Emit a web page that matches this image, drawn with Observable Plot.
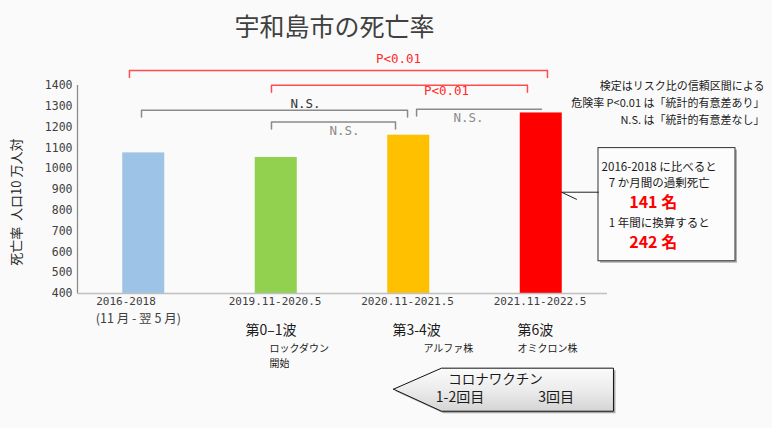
<!DOCTYPE html>
<html><head><meta charset="utf-8">
<script src="https://cdn.jsdelivr.net/npm/d3@7"></script>
<script src="https://cdn.jsdelivr.net/npm/@observablehq/plot@0.6"></script>
<style>
html,body{margin:0;padding:0;background:#fafafa;}
#chart{width:772px;height:428px;}
</style></head><body><div id="chart"></div>
<script>
// ---- data ----
const categories = ["2016-2018", "2019.11-2020.5", "2020.11-2021.5", "2021.11-2022.5"];
const categorySubLabels = ["(11 月 - 翌 5 月)", "", "", ""];
const deathRates = [1076, 1054, 1161, 1268];
const yTicks = [400, 500, 600, 700, 800, 900, 1000, 1100, 1200, 1300, 1400];
const yLabel = "死亡率  人口10 万人対";
const title = "宇和島市の死亡率";

// significance brackets (category-index units / rate units)
const bracketFrom = [-0.108, 0.964, -0.017, 0.964, 2.059];
const bracketTo = [3.047, 2.896, 1.991, 1.900, 3.002];
const bracketLevel = [1472, 1401, 1281, 1224, 1286];
const bracketLabels = ["P<0.01", "P<0.01", "N.S.", "N.S.", "N.S."];
const bracketLabelX = [1.923, 2.285, 1.221, 1.515, 2.451];
const bracketLabelY = [1527, 1373, 1310, 1180, 1243];
const bracketRightDrop = [true, true, true, true, false];

const waveLabels = ["第0–1波", "第3-4波", "第6波"];
const waveX = [0.768, 1.877, 2.821];
const strainLabels = ["ロックダウン\n開始", "アルファ株", "オミクロン株"];
const strainX = [0.949, 2.111, 2.821];

const notes = ["検定はリスク比の信頼区間による", "危険率 P<0.01 は「統計的有意差あり」", "N.S. は「統計的有意差なし」"];
const notesY = [1393, 1313, 1233];

const excess7mo = 141;
const excessYear = 242;
const calloutLines = ["2016-2018 に比べると", "7 か月間の過剰死亡", `${excess7mo} 名`, "1 年間に換算すると", `${excessYear} 名`];
const calloutLineY = [1007, 930, 834, 738, 642];
const calloutEmph = [false, false, true, false, true];

const vaccineTitle = "コロナワクチン";
const vaccineDoses = ["1-2回目", "3回目"];
const vaccineDoseX = [2.387, 3.113];

// ---- styles ----
const barColors = ["#9DC3E6", "#92D050", "#FFC000", "#FF0000"];
const mono = "'DejaVu Sans Mono', monospace";
const cjk = "'Noto Sans CJK JP', sans-serif";
const textColor = "#404040";
const bracketLabelColors = ["#ff2a2a", "#ff2a2a", "#333333", "#8a8a8a", "#8a8a8a"];
const bracketStroke = (i) => bracketLabels[i].startsWith("P") ? "#ff4d4d" : "#8a8a8a";

// ---- derived tables ----
const bars = categories.map((c, i) => ({i, c, sub: categorySubLabels[i], v: deathRates[i], color: barColors[i]}));
const drop = 33;
const bracketPts = [];
bracketFrom.forEach((f, k) => {
  const t = bracketTo[k], y = bracketLevel[k];
  bracketPts.push({k, x: f, y: y - drop}, {k, x: f, y}, {k, x: t, y});
  if (bracketRightDrop[k]) bracketPts.push({k, x: t, y: y - drop});
});
const bracketText = bracketLabels.map((l, k) => ({l, x: bracketLabelX[k], y: bracketLabelY[k], color: bracketLabelColors[k]}));

const box = {x1: 3.432, x2: 4.466, y1: 555, y2: 1099};
const leader = [{x: 3.432, y: 887}, {x: 3.153, y: 887}, {x: 3.266, y: 853}];
const callout = calloutLines.map((t, k) => ({t, y: calloutLineY[k], emph: calloutEmph[k]}));

const arrowPoly = [
  {x: 1.885, y: -60}, {x: 2.247, y: 41}, {x: 3.545, y: 41},
  {x: 3.545, y: -166}, {x: 2.247, y: -166}, {x: 1.885, y: -60}
];

const chart = Plot.plot({
  width: 772, height: 428,
  marginLeft: 77, marginRight: 165, marginTop: 85, marginBottom: 135,
  x: {domain: [-0.5, 3.5], axis: null},
  y: {domain: [400, 1400], axis: null},
  style: {background: "#fafafa", fontFamily: mono, color: textColor},
  marks: [
    // bars
    Plot.rect(bars, {x1: d => d.i - 0.5, x2: d => d.i + 0.5, y1: 400, y2: "v", fill: "color", insetLeft: 45.25, insetRight: 45.25}),
    // axes
    Plot.ruleX([-0.5], {y1: 400, y2: 1400, stroke: "#8c8c8c", strokeWidth: 1.3}),
    Plot.ruleY([400], {x1: -0.5, x2: 3.5, stroke: "#bfbfbf", strokeWidth: 1.5}),
    Plot.axisY({ticks: yTicks, tickSize: 0, tickPadding: 5, tickFormat: d => String(d), fontSize: 11.5, fontFamily: mono, fill: textColor, label: null}),
    Plot.text(bars, {x: "i", text: "c", frameAnchor: "bottom", dy: 11, dx: -47.5, textAnchor: "start", fontSize: 11, fontFamily: mono, fill: textColor}),
    Plot.text(bars, {x: "i", text: "sub", frameAnchor: "bottom", dy: 29, dx: -48, textAnchor: "start", fontSize: 12.5, fontFamily: cjk, fill: textColor}),
    Plot.text([yLabel], {frameAnchor: "left", y: 839, dx: -61, rotate: -90, textAnchor: "middle", fontSize: 13, fontFamily: cjk, fill: "#262626"}),
    // title
    Plot.text([title], {x: 1.44, y: 1675, fontSize: 25, fontFamily: cjk, fill: textColor}),
    // brackets
    Plot.line(bracketPts, {x: "x", y: "y", z: "k", stroke: d => bracketStroke(d.k), strokeWidth: 1.5}),
    Plot.text(bracketText, {x: "x", y: "y", text: "l", fill: "color", fontSize: 12.5, fontFamily: mono}),
    // notes
    Plot.text(notes, {x: 4.685, y: (d, k) => notesY[k], text: d => d, textAnchor: "end", fontSize: 11, fontFamily: cjk, fill: "#1a1a1a"}),
    // callout
    Plot.rect([box], {x1: "x1", x2: "x2", y1: "y1", y2: "y2", fill: "#b0b0b0", dx: 2, dy: 2}),
    Plot.rect([box], {x1: "x1", x2: "x2", y1: "y1", y2: "y2", fill: "#fcfcfc", stroke: "#333", strokeWidth: 1}),
    Plot.line(leader, {x: "x", y: "y", stroke: "#222", strokeWidth: 1}),
    Plot.text(callout.filter(d => !d.emph), {x: 3.89, y: "y", text: "t", fontSize: 11.5, fontFamily: cjk, fill: "#1a1a1a"}),
    Plot.text(callout.filter(d => d.emph), {x: 3.845, y: "y", text: "t", fontSize: 16, fontWeight: "bold", fontFamily: cjk, fill: "#ff0000"}),
    // wave / strain annotations
    Plot.text(waveLabels, {x: (d, k) => waveX[k], y: 220, text: d => d, textAnchor: "start", fontSize: 14, fontFamily: cjk, fill: "#1a1a1a"}),
    Plot.text(strainLabels, {x: (d, k) => strainX[k], y: 172, text: d => d, textAnchor: "start", lineAnchor: "top", fontSize: 10, lineHeight: 1.5, fontFamily: cjk, fill: "#1a1a1a"}),
    // vaccine arrow
    Plot.line(arrowPoly, {x: "x", y: "y", fill: "#a8a8a8", stroke: "none", dx: 2, dy: 2}),
    Plot.line(arrowPoly, {x: "x", y: "y", fill: "url(#vacGrad)", stroke: "#111", strokeWidth: 1}),
    Plot.text([vaccineTitle], {x: 2.655, y: -13, fontSize: 13.5, fontFamily: cjk, fill: "#1a1a1a"}),
    Plot.text(vaccineDoses, {x: (d, k) => vaccineDoseX[k], y: -100, text: d => d, fontSize: 14, fontFamily: cjk, fill: "#1a1a1a"})
  ]
});
d3.select(chart).insert("defs", ":first-child").html(
  '<linearGradient id="vacGrad" x1="0" y1="0" x2="0" y2="1"><stop offset="0" stop-color="#fbfbfb"/><stop offset="0.5" stop-color="#ececec"/><stop offset="1" stop-color="#d4d4d4"/></linearGradient>'
);
document.getElementById("chart").appendChild(chart);
</script>
</body></html>
